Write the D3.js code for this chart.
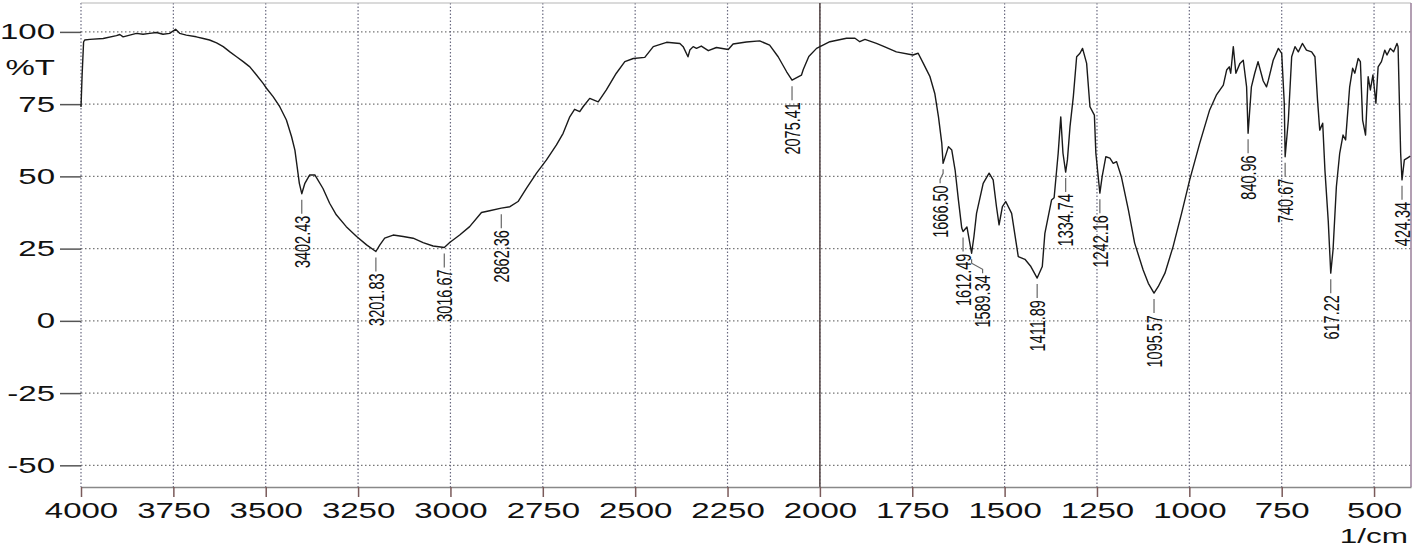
<!DOCTYPE html>
<html>
<head>
<meta charset="utf-8">
<script src="https://cdn.jsdelivr.net/npm/d3@7"></script>
<style>
body { margin: 0; background: #fff; }
svg { display: block; font-family: Arial, "Liberation Sans", sans-serif; }
</style>
</head>
<body>
<svg width="1418" height="549"></svg>
<script>
// IR spectrum
var wavenumber = [4000, 3997, 3993, 3990, 3976, 3940, 3904, 3895, 3886, 3868, 3850, 3832, 3814, 3796, 3778, 3760, 3744, 3733, 3715, 3688,
	3669, 3652, 3633, 3615, 3597, 3579, 3561, 3543, 3525, 3507, 3498, 3480, 3462, 3444, 3430, 3421, 3415, 3409, 3402.43, 3394,
	3381, 3367, 3345, 3327, 3309, 3282, 3254, 3227, 3201.83, 3191, 3178, 3155, 3128, 3101, 3074, 3047, 3016.67, 3002, 2975, 2948,
	2916, 2894, 2862.36, 2839, 2817, 2794, 2767, 2740, 2713, 2695, 2677, 2664, 2650, 2641, 2623, 2600, 2578, 2551, 2528, 2505,
	2474, 2451, 2415, 2379, 2370, 2357, 2352, 2343, 2334, 2321, 2302, 2280, 2248, 2235, 2199, 2163, 2136, 2113, 2090, 2075.41,
	2050, 2045, 2030, 2009, 1973, 1928, 1905, 1892, 1878, 1847, 1829, 1793, 1748, 1734, 1720, 1702, 1689, 1679, 1670, 1666.50,
	1652, 1643, 1634, 1625, 1616, 1612.49, 1602, 1589.34, 1583, 1576, 1558, 1542, 1531, 1522, 1515, 1506, 1497, 1481, 1463, 1445,
	1430, 1411.89, 1398, 1391, 1373, 1366, 1355, 1348, 1342, 1334.74, 1330, 1323, 1314, 1305, 1296, 1289, 1278, 1269, 1257, 1253,
	1242.16, 1236, 1226, 1215, 1206, 1197, 1184, 1165, 1148, 1125, 1111, 1095.57, 1084, 1066, 1044, 1021, 999, 972, 945, 927,
	908, 899, 892, 888, 881, 874, 863, 854, 845, 840.96, 832, 823, 814, 800, 791, 786, 773, 759, 750, 743,
	740.67, 732, 723, 714, 705, 694, 683, 669, 660, 653, 647, 639, 633, 624, 617.22, 611, 602, 593, 584, 577,
	566, 558, 552, 543, 537, 531, 523, 516, 510, 503, 495, 489, 480, 471, 465, 456, 447, 438, 435, 428,
	424.34, 418, 408, 402];
var transmittance = [74, 85, 96.5, 97.2, 97.4, 97.7, 98.7, 99.1, 98.3, 98.9, 99.5, 99.2, 99.5, 99.8, 99.2, 99.5, 100.9, 99.5, 98.9, 98.3,
	97.7, 97.2, 96.2, 94.9, 93.1, 91.4, 89.7, 87.9, 85.1, 82.2, 80.5, 77.6, 74.1, 69.5, 63.7, 59.1, 53.4, 47.6, 44, 47.6,
	50.5, 50.5, 45.8, 40.7, 36.7, 32.6, 29.2, 26.3, 24.0, 26.3, 28.6, 29.7, 29.2, 28.6, 27.1, 25.9, 25.4, 27.1, 29.7, 32.6,
	37.5, 38.1, 39.0, 39.5, 41.3, 45.9, 51.1, 55.7, 60.9, 64.9, 70.6, 73.2, 72.4, 74.1, 77.0, 75.8, 79.9, 85.7, 89.7, 90.8,
	91.2, 94.9, 96.4, 96.0, 94.9, 91.4, 93.7, 94.9, 94.3, 95.1, 93.5, 94.6, 93.9, 95.8, 96.5, 96.9, 95.4, 91.4, 86.2, 83.3,
	85.0, 87.0, 91.5, 94.3, 96.6, 97.8, 97.8, 96.6, 97.4, 96.0, 95.1, 93.1, 92.0, 92.6, 89.1, 84.5, 78.7, 70.6, 61.4, 54.5,
	60.3, 59.1, 52.2, 41.8, 32.1, 30.9, 32.5, 23.4, 29.2, 37.2, 47.6, 51.1, 48.8, 39.5, 33.2, 39.5, 41.3, 37.2, 22.2, 21.3,
	19.0, 14.8, 18.8, 30.3, 41.8, 42.6, 58, 70.6, 58, 51.5, 55.7, 67.2, 77.6, 91.4, 92.6, 94.3, 89.1, 74.1, 71.2, 58,
	44.2, 49.9, 56.8, 56.3, 54.5, 55.1, 49.9, 38.4, 26.9, 17.6, 13.0, 9.6, 11.9, 16.5, 25.7, 37.2, 48.8, 61.4, 73.0, 78.1,
	81.6, 86.8, 87.9, 85.7, 94.9, 85.7, 89.1, 90.2, 81.0, 64.9, 81.0, 85.7, 89.7, 83.0, 81.0, 83.3, 90.2, 94.3, 92.6, 75.3,
	56.8, 69.5, 91.4, 94.9, 93.1, 96.0, 93.7, 93.1, 91.4, 76.4, 66.0, 68.4, 52.2, 34.6, 16.5, 24.6, 46.4, 58, 64.3, 62.6,
	81.0, 87.4, 85.7, 90.8, 89.7, 69.5, 64.3, 84.5, 79.9, 85.1, 75.3, 87.9, 89.7, 93.7, 92.0, 94.3, 93.1, 96.0, 94.9, 58,
	48.8, 55.7, 56.5, 57];

var peakLabels = [3402.43, 3201.83, 3016.67, 2862.36, 2075.41, 1666.50, 1612.49, 1589.34, 1411.89, 1334.74, 1242.16, 1095.57, 840.96, 740.67, 617.22, 424.34];
var xTicks = [4000, 3750, 3500, 3250, 3000, 2750, 2500, 2250, 2000, 1750, 1500, 1250, 1000, 750, 500];
var yTicks = [-50, -25, 0, 25, 50, 75, 100];

var svg = d3.select("svg");
var sx = 1.5; // the scan is stretched sideways, so the type is too

var x = d3.scaleLinear().domain([4000, 400]).range([81, 1411]);
var y = d3.scaleLinear().domain([-57.5, 110]).range([487, 3]);

var points = wavenumber.map(function(w, i) {
	return { w: w, t: transmittance[i] };
});

// plain numbers, no thousands comma, hyphen minus
var plain = function(d) { return "" + d; };

// dotted grid
svg.append("g")
	.selectAll("line")
	.data(yTicks)
	.enter().append("line")
	.attr("x1", x(4000))
	.attr("x2", x(400))
	.attr("y1", function(d) { return y(d); })
	.attr("y2", function(d) { return y(d); })
	.attr("stroke", "#777")
	.attr("stroke-width", 1.2)
	.attr("stroke-dasharray", "1.5,2.5");

svg.append("g")
	.selectAll("line")
	.data(xTicks)
	.enter().append("line")
	.attr("x1", function(d) { return x(d); })
	.attr("x2", function(d) { return x(d); })
	.attr("y1", y(110))
	.attr("y2", y(-57.5))
	.attr("stroke", "#6a6a80")
	.attr("stroke-width", 1.2)
	.attr("stroke-dasharray", "1.5,2");

// frame pieces from the scan
svg.append("line")
	.attr("x1", x(4000)).attr("x2", x(400))
	.attr("y1", y(110)).attr("y2", y(110))
	.attr("stroke", "#b5b5b5");
svg.append("line")
	.attr("x1", x(400)).attr("x2", x(400))
	.attr("y1", y(110)).attr("y2", y(-57.5))
	.attr("stroke", "#9a7f9a")
	.attr("stroke-width", 1.5);
svg.append("line")
	.attr("x1", x(2000)).attr("x2", x(2000))
	.attr("y1", y(110)).attr("y2", y(-57.5))
	.attr("stroke", "#5a4c4c")
	.attr("stroke-width", 1.6);

// axes
var gx = svg.append("g")
	.attr("transform", "translate(0," + y(-57.5) + ")")
	.call(d3.axisBottom(x).tickValues(xTicks).tickFormat(plain).tickSize(10).tickSizeOuter(0).tickPadding(5));
gx.select(".domain").attr("stroke", "#888").attr("stroke-width", 1.5);
gx.selectAll(".tick line").attr("stroke", "#7a5a5a").attr("stroke-width", 1.5);
gx.selectAll(".tick text")
	.attr("fill", "#111")
	.style("font-size", "22px")
	.attr("transform", "scale(" + sx + ",1)");

var gy = svg.append("g")
	.attr("transform", "translate(" + x(4000) + ",0)")
	.call(d3.axisLeft(y).tickValues(yTicks).tickFormat(plain).tickSize(21).tickSizeOuter(0));
gy.select(".domain").remove();
gy.selectAll(".tick line").attr("stroke", "#555").attr("stroke-width", 1.5);
gy.selectAll(".tick text")
	.attr("fill", "#111")
	.attr("x", -26 / sx)
	.style("font-size", "22px")
	.attr("transform", "scale(" + sx + ",1)");

svg.append("text")
	.attr("transform", "translate(55," + 67 + ") scale(" + sx + ",1)")
	.attr("text-anchor", "end")
	.attr("dy", "0.35em")
	.style("font-size", "22px")
	.attr("fill", "#111")
	.text("%T");

svg.append("text")
	.attr("transform", "translate(1408,543) scale(" + sx + ",1)")
	.attr("text-anchor", "end")
	.style("font-size", "21px")
	.attr("fill", "#111")
	.text("1/cm");

// spectrum
var line = d3.line()
	.x(function(d) { return x(d.w); })
	.y(function(d) { return y(d.t); });

svg.append("path")
	.datum(points)
	.attr("fill", "none")
	.attr("stroke", "#1a1a1a")
	.attr("stroke-width", 1.4)
	.attr("stroke-linejoin", "round")
	.attr("d", line);

// peak markers
var nudge = { "1589.34": 11, "1666.50": -3 };
var peakData = peakLabels.map(function(p) {
	var i = wavenumber.indexOf(p);
	return { w: p, t: transmittance[i], dx: nudge[p.toFixed(2)] || 0 };
});

var pk = svg.append("g").selectAll("g")
	.data(peakData)
	.enter().append("g");

pk.append("path")
	.attr("fill", "none")
	.attr("stroke", "#666")
	.attr("stroke-width", 1.2)
	.attr("d", function(d) {
		var px = x(d.w), py = y(d.t);
		return "M" + px + "," + (py + 6) + "L" + px + "," + (py + 10) +
			"L" + (px + d.dx) + "," + (py + 16) + "L" + (px + d.dx) + "," + (py + 20);
	});

pk.append("text")
	.attr("transform", function(d) {
		return "translate(" + (x(d.w) + d.dx) + "," + (y(d.t) + 22) + ") scale(" + sx + ",1) rotate(-90)";
	})
	.attr("text-anchor", "end")
	.attr("dy", "0.36em")
	.style("font-size", "14.5px")
	.attr("fill", "#111")
	.text(function(d) { return d.w.toFixed(2); });
</script>
</body>
</html>
